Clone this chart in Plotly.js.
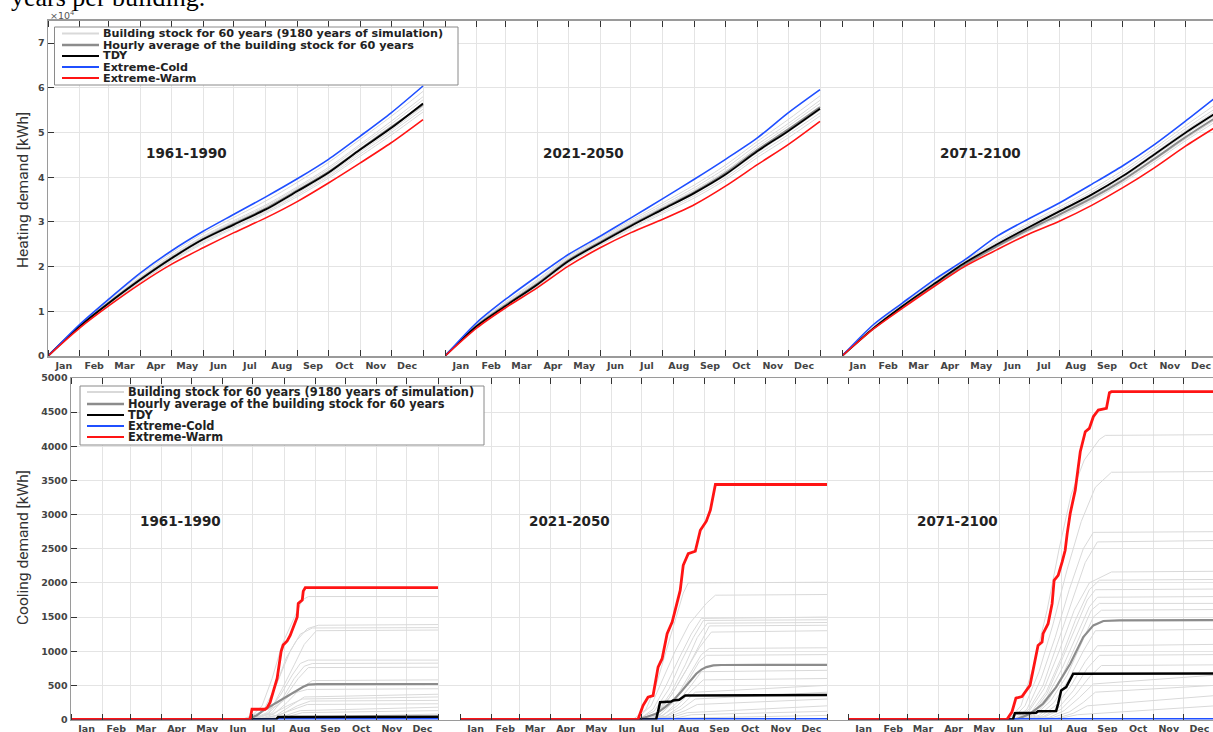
<!DOCTYPE html>
<html><head><meta charset="utf-8">
<script src="https://cdn.plot.ly/plotly-3.0.1.min.js"></script>
<style>html,body{margin:0;padding:0;overflow:hidden;background:#fff}#chart{width:1213px;height:732px}</style>
</head><body><div id="chart"></div>
<script>
// ---------- categories / labels ----------
const monthStarts = [0,31,59,90,120,151,181,212,243,273,304,334,365];
const monthMids   = [15.5,45,74.5,105,135.5,166,196.5,227.5,258,288.5,319,349.5];
const monthLabels = ['Jan','Feb','Mar','Apr','May','Jun','Jul','Aug','Sep','Oct','Nov','Dec'];
const periods = ['1961-1990','2021-2050','2071-2100'];
const seriesNames = ['Building stock for 60 years (9180 years of simulation)',
  'Hourly average of the building stock for 60 years','TDY','Extreme-Cold','Extreme-Warm'];
const heatTicks = [0,1,2,3,4,5,6,7];
const coolTicks = [0,500,1000,1500,2000,2500,3000,3500,4000,4500,5000];

// ---------- heating demand (x10^4 kWh), cumulative at month starts ----------
const heatCold1961 = [0,0.71,1.27,1.86,2.35,2.79,3.17,3.56,3.97,4.40,4.92,5.44,6.04];
const heatTDY1961  = [0,0.67,1.18,1.71,2.18,2.61,2.94,3.28,3.69,4.10,4.62,5.10,5.65];
const heatWarm1961 = [0,0.63,1.12,1.62,2.05,2.42,2.76,3.09,3.46,3.87,4.32,4.77,5.29];
const heatAvg1961  = [0,0.67,1.19,1.72,2.19,2.62,2.96,3.30,3.71,4.12,4.63,5.12,5.62];
const heatStock1961 = [
  [0,0.69,1.22,1.77,2.25,2.68,3.03,3.38,3.79,4.22,4.74,5.25,5.80],
  [0,0.65,1.15,1.67,2.13,2.55,2.89,3.22,3.61,4.02,4.52,5.00,5.52],
  [0,0.68,1.21,1.75,2.23,2.66,3.00,3.35,3.76,4.18,4.70,5.19,5.73],
  [0,0.66,1.16,1.69,2.15,2.58,2.92,3.25,3.65,4.06,4.57,5.05,5.58],
  [0,0.70,1.25,1.82,2.30,2.74,3.10,3.47,3.89,4.33,4.85,5.36,5.92],
  [0,0.64,1.14,1.66,2.11,2.52,2.86,3.19,3.57,3.98,4.47,4.94,5.46]];

const heatCold2021 = [0,0.75,1.27,1.79,2.27,2.68,3.09,3.52,3.96,4.40,4.88,5.44,5.96];
const heatTDY2021  = [0,0.67,1.12,1.60,2.12,2.53,2.91,3.28,3.65,4.06,4.58,5.03,5.53];
const heatWarm2021 = [0,0.63,1.08,1.53,2.01,2.42,2.76,3.06,3.39,3.80,4.28,4.73,5.25];
const heatAvg2021  = [0,0.68,1.14,1.62,2.14,2.55,2.93,3.30,3.67,4.09,4.61,5.07,5.57];
const heatStock2021 = [
  [0,0.70,1.18,1.68,2.20,2.61,3.00,3.38,3.77,4.20,4.73,5.20,5.72],
  [0,0.66,1.11,1.58,2.09,2.50,2.87,3.23,3.59,3.99,4.50,4.95,5.44],
  [0,0.69,1.16,1.65,2.17,2.58,2.97,3.34,3.72,4.14,4.67,5.14,5.65],
  [0,0.67,1.13,1.61,2.12,2.53,2.90,3.27,3.63,4.04,4.55,5.01,5.50],
  [0,0.72,1.21,1.71,2.23,2.64,3.04,3.43,3.83,4.27,4.80,5.29,5.82],
  [0,0.65,1.10,1.56,2.07,2.48,2.84,3.19,3.54,3.94,4.44,4.88,5.37]];

const heatCold2071 = [0,0.71,1.19,1.71,2.16,2.68,3.06,3.43,3.84,4.25,4.73,5.25,5.81];
const heatTDY2071  = [0,0.63,1.12,1.62,2.09,2.50,2.87,3.24,3.61,4.02,4.51,4.99,5.45];
const heatWarm2071 = [0,0.61,1.07,1.56,2.01,2.38,2.72,3.02,3.37,3.76,4.21,4.69,5.14];
const heatAvg2071  = [0,0.62,1.10,1.59,2.05,2.46,2.82,3.17,3.53,3.93,4.41,4.89,5.35];
const heatStock2071 = [
  [0,0.65,1.14,1.65,2.12,2.54,2.92,3.29,3.67,4.09,4.59,5.08,5.56],
  [0,0.61,1.08,1.57,2.03,2.43,2.78,3.12,3.47,3.87,4.34,4.81,5.26],
  [0,0.64,1.13,1.63,2.10,2.51,2.89,3.26,3.63,4.04,4.54,5.03,5.50],
  [0,0.62,1.09,1.58,2.04,2.45,2.80,3.15,3.50,3.90,4.38,4.85,5.31],
  [0,0.67,1.16,1.67,2.14,2.58,2.96,3.34,3.73,4.15,4.65,5.15,5.65],
  [0,0.63,1.11,1.60,2.07,2.48,2.85,3.21,3.57,3.98,4.47,4.95,5.41]];

// ---------- cooling demand (kWh), [day of year, cumulative kWh] ----------
const coolWarm1961 = [[0,0],[178,0],[180,150],[193,150],[195,170],[198,250],[201,400],[205,600],[209,1000],[211,1090],[213,1120],[215,1150],[218,1230],[221,1350],[225,1500],[226,1700],[230,1750],[231,1880],[233,1930],[365,1930]];
const coolAvg1961  = [[0,0],[175,0],[178,20],[185,60],[191,130],[200,210],[208,280],[216,350],[225,425],[231,480],[236,510],[245,518],[365,520]];
const coolTDY1961  = [[0,0],[204,0],[206,35],[365,40]];
const coolCold1961 = [[0,0],[365,0]];
const coolStock1961 = [
  [[0,0],[176,0],[190,200],[200,600],[210,1100],[222,1500],[230,1750],[236,1800],[365,1800]],
  [[0,0],[178,0],[192,150],[204,500],[214,900],[224,1150],[235,1330],[246,1380],[365,1390]],
  [[0,0],[180,0],[195,180],[207,600],[218,1000],[228,1250],[240,1340],[365,1345]],
  [[0,0],[182,0],[197,100],[210,450],[222,800],[232,1100],[244,1300],[365,1310]],
  [[0,0],[179,0],[195,100],[208,350],[220,650],[228,820],[236,870],[365,870]],
  [[0,0],[181,0],[196,80],[210,300],[222,600],[232,780],[240,820],[365,825]],
  [[0,0],[183,0],[200,100],[214,350],[226,600],[236,760],[365,765]],
  [[0,0],[185,0],[202,80],[215,250],[228,450],[240,570],[365,580]],
  [[0,0],[170,0],[180,60],[205,200],[220,380],[235,440],[365,450]],
  [[0,0],[186,0],[204,60],[218,200],[232,330],[365,370]],
  [[0,0],[172,0],[200,80],[215,200],[230,300],[365,330]],
  [[0,0],[188,0],[210,80],[225,200],[238,270],[365,280]],
  [[0,0],[184,0],[205,60],[222,150],[235,220],[365,230]],
  [[0,0],[190,0],[212,50],[228,130],[365,180]],
  [[0,0],[192,0],[215,40],[230,100],[365,130]],
  [[0,0],[168,0],[218,30],[365,80]]];

const coolWarm2021 = [[0,0],[177,0],[182,205],[187,327],[192,350],[197,767],[201,890],[206,1256],[211,1427],[216,1745],[219,1890],[222,2258],[227,2429],[234,2463],[239,2771],[245,2903],[249,3064],[254,3441],[365,3441]];
const coolAvg2021  = [[0,0],[176,0],[179,10],[186,40],[195,83],[204,180],[212,279],[219,390],[225,499],[230,590],[235,670],[240,730],[245,767],[252,792],[260,798],[365,800]];
const coolTDY2021  = [[0,0],[195,0],[197,120],[199,254],[210,262],[212,279],[218,290],[222,330],[224,352],[365,360]];
const coolCold2021 = [[0,0],[365,0]];
const coolStock2021 = [
  [[0,0],[172,0],[185,150],[195,500],[205,1000],[215,1500],[222,1850],[227,2000],[365,2010]],
  [[0,0],[175,0],[190,200],[202,600],[214,1000],[228,1400],[245,1700],[254,1820],[365,1830]],
  [[0,0],[178,0],[192,150],[205,500],[218,900],[230,1250],[240,1480],[365,1500]],
  [[0,0],[176,0],[193,120],[208,450],[220,850],[232,1200],[242,1450],[365,1460]],
  [[0,0],[180,0],[196,100],[210,400],[224,800],[236,1200],[246,1410],[365,1420]],
  [[0,0],[182,0],[198,100],[212,400],[226,750],[238,1100],[248,1370],[365,1380]],
  [[0,0],[179,0],[195,80],[210,350],[224,700],[238,1050],[250,1280],[365,1300]],
  [[0,0],[184,0],[200,80],[214,300],[228,650],[240,950],[248,1040],[365,1050]],
  [[0,0],[181,0],[198,60],[212,250],[226,550],[238,850],[245,940],[365,950]],
  [[0,0],[186,0],[202,60],[216,250],[230,500],[240,700],[365,720]],
  [[0,0],[183,0],[200,50],[216,200],[230,420],[242,580],[365,600]],
  [[0,0],[188,0],[205,50],[220,200],[234,400],[365,500]],
  [[0,0],[185,0],[204,40],[220,150],[234,300],[365,400]],
  [[0,0],[190,0],[208,40],[224,130],[236,220],[365,300]],
  [[0,0],[170,0],[210,30],[226,100],[365,200]],
  [[0,0],[194,0],[214,20],[230,70],[365,120]],
  [[0,0],[196,0],[220,20],[365,60]]];

const coolWarm2071 = [[0,0],[158,0],[163,108],[167,313],[173,337],[178,435],[181,499],[184,718],[189,1085],[193,1134],[194,1256],[199,1403],[203,1696],[205,2038],[209,2111],[213,2307],[216,2478],[218,2722],[221,3016],[226,3358],[229,3651],[231,3920],[236,4213],[240,4262],[244,4433],[249,4531],[257,4555],[260,4785],[262,4800],[365,4800]];
const coolAvg2071  = [[0,0],[165,0],[169,10],[181,83],[194,230],[207,474],[221,816],[234,1207],[244,1378],[254,1442],[270,1452],[365,1455]];
const coolTDY2071  = [[0,0],[164,0],[166,93],[187,100],[189,122],[207,125],[209,230],[212,425],[217,474],[221,596],[224,670],[365,672]];
const coolCold2071 = [[0,0],[365,0]];
const coolStock2071 = [
  [[0,0],[160,0],[172,200],[185,800],[198,1600],[210,2500],[222,3300],[235,3800],[250,4100],[256,4160],[365,4170]],
  [[0,0],[163,0],[176,200],[190,700],[204,1400],[218,2200],[232,2900],[246,3400],[262,3620],[365,3630]],
  [[0,0],[165,0],[178,150],[192,600],[206,1200],[220,1900],[234,2500],[244,2740],[365,2750]],
  [[0,0],[167,0],[180,150],[194,500],[208,1100],[222,1700],[236,2300],[248,2600],[365,2620]],
  [[0,0],[166,0],[180,120],[195,450],[210,1000],[225,1600],[240,2000],[262,2160],[365,2170]],
  [[0,0],[168,0],[182,100],[197,400],[212,900],[226,1450],[240,1900],[250,2040],[365,2050]],
  [[0,0],[170,0],[184,100],[198,380],[212,850],[226,1350],[238,1750],[246,1900],[365,1910]],
  [[0,0],[169,0],[183,80],[198,330],[213,750],[228,1250],[240,1650],[248,1790],[365,1800]],
  [[0,0],[172,0],[186,80],[200,300],[215,700],[230,1200],[242,1600],[250,1700],[365,1700]],
  [[0,0],[171,0],[186,60],[202,280],[218,650],[232,1100],[244,1500],[252,1600],[365,1610]],
  [[0,0],[174,0],[190,60],[205,250],[220,600],[234,1000],[246,1300],[365,1320]],
  [[0,0],[176,0],[192,50],[208,220],[222,500],[236,850],[248,1080],[365,1100]],
  [[0,0],[178,0],[194,40],[210,180],[224,420],[238,750],[250,940],[365,950]],
  [[0,0],[180,0],[196,40],[212,150],[226,360],[240,620],[252,790],[365,800]],
  [[0,0],[182,0],[200,30],[215,130],[230,320],[244,520],[365,650]],
  [[0,0],[184,0],[204,30],[220,110],[234,250],[246,400],[365,500]],
  [[0,0],[186,0],[208,20],[224,90],[238,200],[365,350]],
  [[0,0],[190,0],[212,20],[228,70],[365,200]]];

// ---------- styling ----------
const W = 1213, H = 732;
const px = x => x / W, py = y => 1 - y / H;
const C = {stock:'#d9d9d9', avg:'#8c8c8c', tdy:'#000000', cold:'#1f4fff', warm:'#ff1414'};
const FONT = 'DejaVu Sans, Verdana, sans-serif';
const NARROW = 'Roboto, Liberation Sans, sans-serif';

const traces = [];
function addLine(x, y, xa, ya, color, width, name, shape) {
  traces.push({type:'scatter', mode:'lines', x, y, xaxis:xa, yaxis:ya, name,
    line:{color, width, shape: shape || 'linear', smoothing: 0.8}, showlegend:false, hoverinfo:'skip'});
}
const heatSets = [
  [heatStock1961, heatAvg1961, heatTDY1961, heatCold1961, heatWarm1961],
  [heatStock2021, heatAvg2021, heatTDY2021, heatCold2021, heatWarm2021],
  [heatStock2071, heatAvg2071, heatTDY2071, heatCold2071, heatWarm2071]];
heatSets.forEach((s, i) => {
  const xa = 'x' + (i === 0 ? '' : i + 1);
  s[0].forEach(v => addLine(monthStarts, v, xa, 'y', C.stock, 1, seriesNames[0], 'spline'));
  addLine(monthStarts, s[1], xa, 'y', C.avg, 2, seriesNames[1], 'spline');
  addLine(monthStarts, s[2], xa, 'y', C.tdy, 1.8, seriesNames[2], 'spline');
  addLine(monthStarts, s[3], xa, 'y', C.cold, 1.6, seriesNames[3], 'spline');
  addLine(monthStarts, s[4], xa, 'y', C.warm, 1.6, seriesNames[4], 'spline');
});
const coolSets = [
  [coolStock1961, coolAvg1961, coolTDY1961, coolCold1961, coolWarm1961],
  [coolStock2021, coolAvg2021, coolTDY2021, coolCold2021, coolWarm2021],
  [coolStock2071, coolAvg2071, coolTDY2071, coolCold2071, coolWarm2071]];
const dx = p => p.map(q => q[0]), dy = p => p.map(q => q[1]);
coolSets.forEach((s, i) => {
  const xa = 'x' + (i + 4);
  s[0].forEach(p => addLine(dx(p), dy(p), xa, 'y2', C.stock, 1, seriesNames[0]));
  addLine(dx(s[1]), dy(s[1]), xa, 'y2', C.avg, 2.2, seriesNames[1]);
  addLine(dx(s[3]), dy(s[3]), xa, 'y2', C.cold, 3, seriesNames[3]);
  addLine(dx(s[2]), dy(s[2]), xa, 'y2', C.tdy, 2.5, seriesNames[2]);
  addLine(dx(s[4]), dy(s[4]), xa, 'y2', C.warm, 2.8, seriesNames[4]);
});

const tickFont = {family: FONT, size: 9.5, color: '#444', weight: 'bold'};
const frame = {showline:true, linecolor:'#9a9a9a', linewidth:1.5};
function xAxis(x0, x1, anchor, daysPerPx) {
  return Object.assign({domain:[px(x0), px(x1)], anchor, range:[0, (x1 - x0) * daysPerPx],
    tickmode:'array', tickvals:monthMids, ticktext:monthLabels, ticks:'', showgrid:false,
    zeroline:false, mirror:'ticks', tickfont:tickFont, fixedrange:true,
    minor:{tickmode:'array', tickvals:monthStarts, ticks:'inside', ticklen:6, tickcolor:'#333',
      tickwidth:1, showgrid:true, gridcolor:'#e4e4e4', gridwidth:1}}, frame);
}
function yAxis(domain, anchor, range, vals, extra) {
  return Object.assign({domain, anchor, range, tickmode:'array', tickvals:vals,
    ticks:'inside', ticklen:6, tickcolor:'#333', tickwidth:1, showgrid:true, gridcolor:'#e4e4e4',
    zeroline:false, tickfont:tickFont, fixedrange:true}, frame, extra || {});
}
const topDom = [py(356), py(20.75)], botDom = [py(719.5), py(378)];
const topDpp = 365 / 375, botDpp = 365 / 367;

const layout = {
  width: W, height: H, margin:{l:0, r:0, t:0, b:0}, paper_bgcolor:'#fff', plot_bgcolor:'#fff',
  showlegend:false,
  xaxis:  xAxis(48, 445, 'y', topDpp),
  xaxis2: xAxis(445, 842, 'y', topDpp),
  xaxis3: xAxis(842, 1213, 'y', topDpp),
  xaxis4: xAxis(71, 460, 'y2', botDpp),
  xaxis5: xAxis(460, 848, 'y2', botDpp),
  xaxis6: xAxis(848, 1213, 'y2', botDpp),
  yaxis:  yAxis(topDom, 'x', [0, 7.5], heatTicks),
  yaxis2: yAxis(botDom, 'x4', [0, 5000], coolTicks),
  yaxis3: yAxis(topDom, 'x3', [0, 7.5], heatTicks, {overlaying:'y', side:'right', showgrid:false, showticklabels:false}),
  yaxis4: yAxis(botDom, 'x6', [0, 5000], coolTicks, {overlaying:'y2', side:'right', showgrid:false, showticklabels:false}),
  annotations: [], shapes: []
};
const A = layout.annotations, S = layout.shapes;
// period labels
periods.forEach((p, i) => {
  A.push({text:p, xref:'x' + (i === 0 ? '' : i + 1), yref:'y', x:135, y:4.55, xanchor:'center', yanchor:'middle',
    showarrow:false, font:{family:FONT, size:13.5, color:'#222', weight:'bold'}});
  A.push({text:p, xref:'x' + (i + 4), yref:'y2', x:109, y:2900, xanchor:'center', yanchor:'middle',
    showarrow:false, font:{family:FONT, size:13.5, color:'#222', weight:'bold'}});
});
// axis titles
A.push({text:'Heating demand [kWh]', xref:'paper', yref:'paper', x:px(23), y:py(190), textangle:-90,
  xanchor:'center', yanchor:'middle', showarrow:false, font:{family:NARROW, size:15.5, color:'#333'}});
A.push({text:'Cooling demand [kWh]', xref:'paper', yref:'paper', x:px(23), y:py(548), textangle:-90,
  xanchor:'center', yanchor:'middle', showarrow:false, font:{family:NARROW, size:15.5, color:'#333'}});
A.push({text:'×10<sup>4</sup>', xref:'paper', yref:'paper', x:px(49), y:py(15.5), xanchor:'left', yanchor:'middle',
  borderpad:0, showarrow:false, font:{family:FONT, size:9.5, color:'#555'}});
A.push({text:'years per building.', xref:'paper', yref:'paper', x:px(10), y:py(13), xanchor:'left', yanchor:'bottom',
  borderpad:0, showarrow:false, font:{family:'Liberation Serif, Times New Roman, serif', size:26, color:'#000'}});
// legends (two boxes)
const legColors = [C.stock, C.avg, C.tdy, C.cold, C.warm];
const legWidths = [2, 2.5, 2.2, 2.2, 2.2];
function addLegend(bx0, by0, bx1, by1, lx0, lx1, tx, rows, fs) {
  S.push({type:'rect', xref:'paper', yref:'paper', x0:px(bx0), x1:px(bx1), y0:py(by1), y1:py(by0),
    fillcolor:'#fff', line:{color:'#8a8a8a', width:1}});
  rows.forEach((ry, k) => {
    S.push({type:'line', xref:'paper', yref:'paper', x0:px(lx0), x1:px(lx1), y0:py(ry), y1:py(ry),
      line:{color:legColors[k], width:legWidths[k]}});
    A.push({text:seriesNames[k], xref:'paper', yref:'paper', x:px(tx), y:py(ry), xanchor:'left', yanchor:'middle',
      borderpad:0, showarrow:false, font:{family:FONT, size:fs, color:'#222', weight:'bold'}});
  });
}
addLegend(54.5, 27, 458, 85, 62, 99, 102, [33.5, 45, 56, 67, 78], 11.2);
addLegend(80, 386, 484, 445, 87, 124, 127, [392, 404, 415, 426, 437], 11.4);

Plotly.newPlot('chart', traces, layout, {staticPlot:true, displayModeBar:false});
</script></body></html>
